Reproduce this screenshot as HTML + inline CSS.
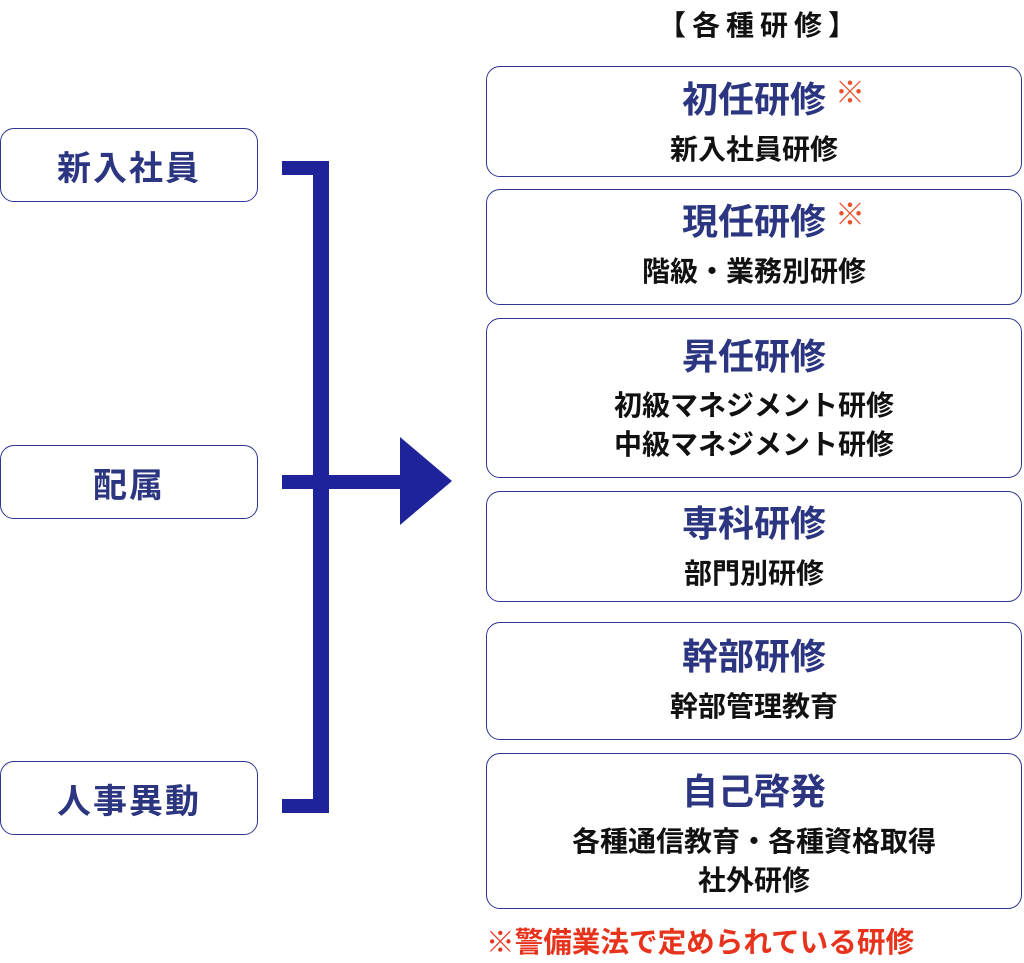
<!DOCTYPE html>
<html><head><meta charset="utf-8"><style>
body{margin:0;width:1024px;height:963px;background:#fff;position:relative;overflow:hidden;font-family:"Liberation Sans","Noto Sans CJK JP",sans-serif;font-weight:bold}
.l{position:absolute;left:0;width:258px;height:74px;border:1.5px solid #2f3590;border-radius:14px;box-sizing:border-box;color:#2b3580;font-size:34px;display:flex;align-items:center;justify-content:center;letter-spacing:2px}
.r{position:absolute;left:486px;width:536px;border:1.5px solid #2f3590;border-radius:14px;box-sizing:border-box;text-align:center}
.t{color:#2b3580;font-size:36px;line-height:44px;position:relative}
.s{color:#111;font-size:28px;line-height:39px;margin-top:8px}
.m{color:#e8512a;font-size:30px;font-weight:normal;position:absolute;left:348px;top:-6px}
.b{position:absolute;background:#1f239a}
</style></head><body>
<div style="position:absolute;left:640px;top:8px;width:240px;text-align:center;font-size:28px;line-height:36px;color:#111;letter-spacing:6px">【各種研修】</div>
<div class="l" style="top:128px">新入社員</div>
<div class="l" style="top:445px">配属</div>
<div class="l" style="top:761px">人事異動</div>
<div class="b" style="left:282px;top:161px;width:47px;height:14px"></div>
<div class="b" style="left:313px;top:161px;width:16px;height:652px"></div>
<div class="b" style="left:282px;top:799px;width:47px;height:14px"></div>
<div class="b" style="left:282px;top:475px;width:124px;height:14px"></div>
<svg style="position:absolute;left:398px;top:437px" width="56" height="88"><polygon points="2,0 54,44 2,88" fill="#1f239a"/></svg>
<div class="r" style="top:66px;height:111px;padding-top:11px"><div class="t">初任研修<span class="m">※</span></div><div class="s">新入社員研修</div></div>
<div class="r" style="top:189px;height:116px;padding-top:10px"><div class="t">現任研修<span class="m">※</span></div><div class="s">階級・業務別研修</div></div>
<div class="r" style="top:318px;height:160px;padding-top:16px"><div class="t">昇任研修</div><div class="s" style="margin-top:7px">初級マネジメント研修<br>中級マネジメント研修</div></div>
<div class="r" style="top:491px;height:111px;padding-top:10px"><div class="t">専科研修</div><div class="s">部門別研修</div></div>
<div class="r" style="top:622px;height:118px;padding-top:12px"><div class="t">幹部研修</div><div class="s">幹部管理教育</div></div>
<div class="r" style="top:753px;height:156px;padding-top:16px"><div class="t">自己啓発</div><div class="s" style="margin-top:8px">各種通信教育・各種資格取得<br>社外研修</div></div>
<div style="position:absolute;left:486px;top:923px;font-size:28.6px;color:#e8331c;line-height:40px">※警備業法で定められている研修</div>
</body></html>
